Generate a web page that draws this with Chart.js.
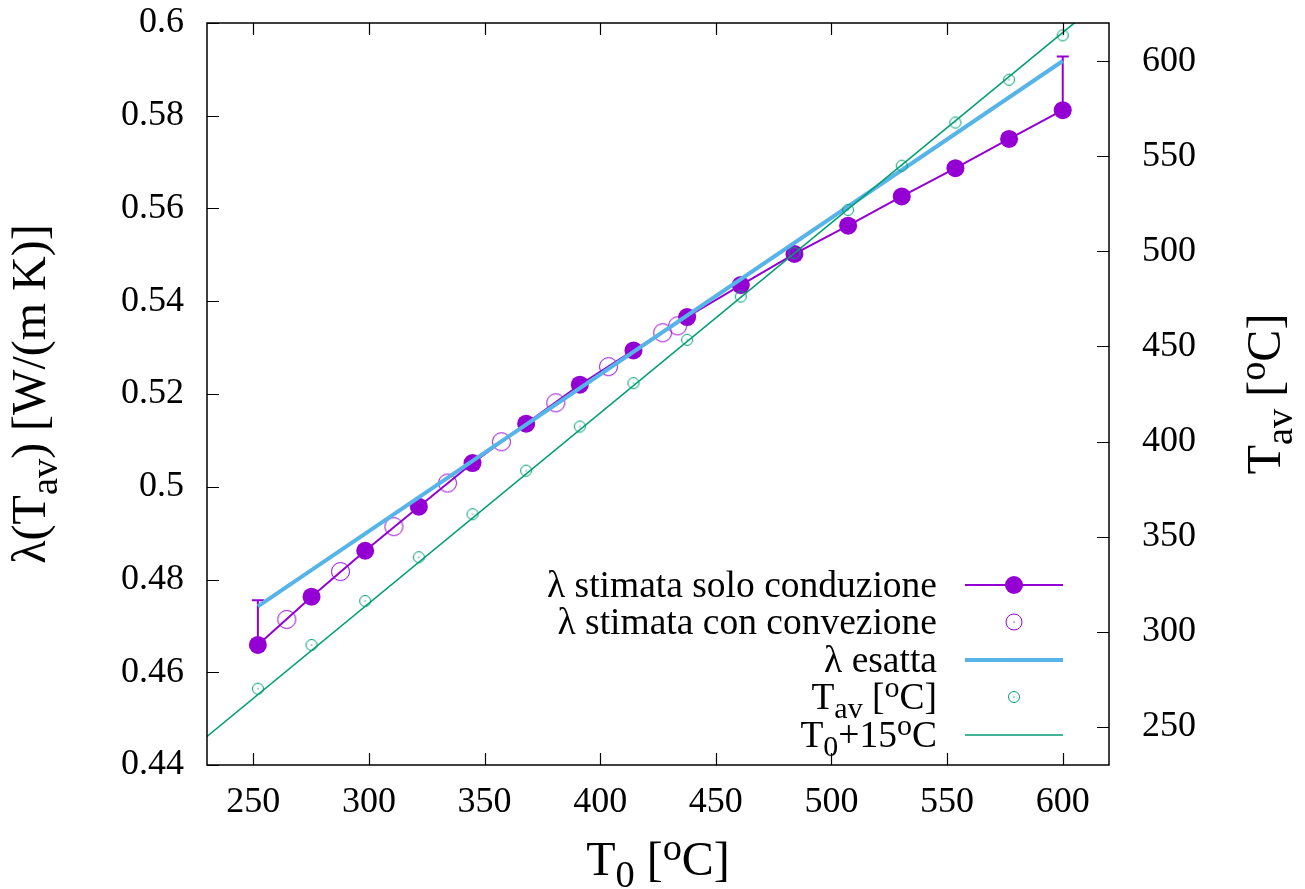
<!DOCTYPE html>
<html>
<head>
<meta charset="utf-8">
<script src="https://cdn.jsdelivr.net/npm/chart.js@4"></script>
<style>
  html, body { margin: 0; padding: 0; background: #ffffff; }
  #wrap { width: 1305px; height: 889px; }
</style>
</head>
<body>
<div id="wrap"><canvas id="c" width="1305" height="889"></canvas></div>
<script>
// ---------------- data ----------------
const T0 = [252, 275.2, 298.4, 321.6, 344.8, 368, 391.2, 414.4, 437.6, 460.8, 484, 507.2, 530.4, 553.6, 576.8, 600];
const lamCond = [0.4659, 0.4763, 0.4862, 0.4957, 0.5051, 0.5136, 0.5220, 0.5294, 0.5366, 0.5435, 0.5502, 0.5563, 0.5626, 0.5687, 0.5750, 0.5812];
const errX = [252, 600];
const errLow = [0.4659, 0.5812];
const errHigh = [0.4755, 0.5928];
const T0conv = [264.5, 287.7, 310.8, 334, 357.3, 380.8, 403.6, 427, 433.5];
const lamConv = [0.4714, 0.4817, 0.4914, 0.5008, 0.5097, 0.5181, 0.5259, 0.5332, 0.5347];
const T0exact = [252, 600];
const lamExact = [0.4742, 0.5918];
const Tav = [270.1, 293.1, 316.2, 339.2, 361.8, 384.7, 407.9, 430.7, 453.5, 476.2, 499.1, 521.8, 545.0, 567.7, 590.2, 613.5];
const T0line = [230, 620];
const T0plus15 = [245, 635];

const xTicks = [250, 300, 350, 400, 450, 500, 550, 600];
const xTickLabels = ['250', '300', '350', '400', '450', '500', '550', '600'];
const yTicks = [0.44, 0.46, 0.48, 0.5, 0.52, 0.54, 0.56, 0.58, 0.6];
const yTickLabels = ['0.44', '0.46', '0.48', '0.5', '0.52', '0.54', '0.56', '0.58', '0.6'];
const y2Ticks = [250, 300, 350, 400, 450, 500, 550, 600];
const y2TickLabels = ['250', '300', '350', '400', '450', '500', '550', '600'];

const legendLabels = [
  [{t: 'λ stimata solo conduzione'}],
  [{t: 'λ stimata con convezione'}],
  [{t: 'λ esatta'}],
  [{t: 'T'}, {t: 'av', sub: true}, {t: ' ['}, {t: 'o', sup: true}, {t: 'C]'}],
  [{t: 'T'}, {t: '0', sub: true}, {t: '+15'}, {t: 'o', sup: true}, {t: 'C'}]
];
const xTitle = [{t: 'T'}, {t: '0', sub: true}, {t: ' ['}, {t: 'o', sup: true}, {t: 'C]'}];
const yTitle = [{t: 'λ(T'}, {t: 'av', sub: true}, {t: ') [W/(m K)]'}];
const y2Title = [{t: 'T'}, {t: 'av', sub: true}, {t: ' ['}, {t: 'o', sup: true}, {t: 'C]'}];

// ---------------- style ----------------
const PURPLE = '#9400d3';
const CYAN = '#56b4e9';
const GREEN = '#009e73';
const FONT = '"Liberation Serif", "Times New Roman", serif';

function zip(xs, ys) { return xs.map((x, i) => ({x: x, y: ys[i]})); }

function circleIcon(color, r, lw, dot) {
  const s = Math.ceil(2 * r + lw + 2);
  const cv = document.createElement('canvas');
  cv.width = s; cv.height = s;
  const c = cv.getContext('2d');
  c.strokeStyle = color; c.lineWidth = lw;
  c.beginPath(); c.arc(s / 2, s / 2, r, 0, Math.PI * 2); c.stroke();
  if (dot) { c.fillStyle = color; c.fillRect(s / 2 - 0.6, s / 2 - 0.6, 1.2, 1.2); }
  return cv;
}
const greenIcon = circleIcon(GREEN, 5.5, 1, true);
const purpleOpenIcon = circleIcon(PURPLE, 9, 1, false);

function drawRich(ctx, parts, x, y, size, align) {
  const subSize = size * 0.8;
  let w = 0;
  const widths = parts.map(p => {
    ctx.font = ((p.sub || p.sup) ? subSize : size) + 'px ' + FONT;
    const ww = ctx.measureText(p.t).width;
    w += ww; return ww;
  });
  let cx = align === 'right' ? x - w : (align === 'center' ? x - w / 2 : x);
  ctx.textAlign = 'left';
  ctx.textBaseline = 'alphabetic';
  parts.forEach((p, i) => {
    ctx.font = ((p.sub || p.sup) ? subSize : size) + 'px ' + FONT;
    let dy = 0;
    if (p.sub) dy = size * 0.25;
    if (p.sup) dy = -size * 0.31;
    ctx.fillText(p.t, cx, y + dy);
    cx += widths[i];
  });
}

const decorPlugin = {
  id: 'decor',
  beforeDatasetsDraw(chart) {
    const ctx = chart.ctx, xs = chart.scales.x, ys = chart.scales.y;
    ctx.save();
    ctx.strokeStyle = PURPLE; ctx.lineWidth = 2;
    errX.forEach((xv, i) => {
      const px = xs.getPixelForValue(xv);
      const p1 = ys.getPixelForValue(errLow[i]);
      const p2 = ys.getPixelForValue(errHigh[i]);
      ctx.beginPath();
      ctx.moveTo(px, p1); ctx.lineTo(px, p2);
      ctx.moveTo(px - 6, p2); ctx.lineTo(px + 6, p2);
      ctx.stroke();
    });
    ctx.restore();
  },
  afterDraw(chart) {
    const ctx = chart.ctx, a = chart.chartArea;
    const xs = chart.scales.x, ys = chart.scales.y, y2 = chart.scales.y2;
    ctx.save();
    // frame
    ctx.strokeStyle = '#000'; ctx.lineWidth = 1.5;
    ctx.strokeRect(a.left, a.top, a.right - a.left, a.bottom - a.top);
    // inward ticks
    const TL = 12;
    ctx.lineWidth = 1.2;
    ctx.beginPath();
    xTicks.forEach(v => {
      const px = Math.round(xs.getPixelForValue(v)) + 0.5;
      ctx.moveTo(px, a.bottom); ctx.lineTo(px, a.bottom - TL);
      ctx.moveTo(px, a.top); ctx.lineTo(px, a.top + TL);
    });
    yTicks.forEach(v => {
      const py = Math.round(ys.getPixelForValue(v)) + 0.5;
      ctx.moveTo(a.left, py); ctx.lineTo(a.left + TL, py);
    });
    y2Ticks.forEach(v => {
      const py = Math.round(y2.getPixelForValue(v)) + 0.5;
      ctx.moveTo(a.right, py); ctx.lineTo(a.right - TL, py);
    });
    ctx.stroke();

    // axis titles
    ctx.fillStyle = '#000';
    drawRich(ctx, xTitle, (a.left + a.right) / 2, 875, 48, 'center');
    ctx.save();
    ctx.translate(45, (a.top + a.bottom) / 2);
    ctx.rotate(-Math.PI / 2);
    drawRich(ctx, yTitle, 0, 0, 48, 'center');
    ctx.restore();
    ctx.save();
    ctx.translate(1280, (a.top + a.bottom) / 2);
    ctx.rotate(-Math.PI / 2);
    drawRich(ctx, y2Title, 0, 0, 48, 'center');
    ctx.restore();

    // legend
    const rows = [585, 622, 660, 697, 735];
    const sx0 = 965, sx1 = 1063, sxm = 1014;
    legendLabels.forEach((parts, i) => {
      ctx.fillStyle = '#000';
      drawRich(ctx, parts, 937, rows[i] + 12, 37.5, 'right');
    });
    // row 1: purple line with filled circle
    ctx.strokeStyle = PURPLE; ctx.lineWidth = 2;
    ctx.beginPath(); ctx.moveTo(sx0, rows[0]); ctx.lineTo(sx1, rows[0]); ctx.stroke();
    ctx.fillStyle = PURPLE;
    ctx.beginPath(); ctx.arc(sxm, rows[0], 9, 0, Math.PI * 2); ctx.fill();
    // row 2: open purple circle with dot
    ctx.lineWidth = 1;
    ctx.beginPath(); ctx.arc(sxm, rows[1], 8, 0, Math.PI * 2); ctx.stroke();
    ctx.fillRect(sxm - 0.6, rows[1] - 0.6, 1.2, 1.2);
    // row 3: cyan line
    ctx.strokeStyle = CYAN; ctx.lineWidth = 4;
    ctx.beginPath(); ctx.moveTo(sx0, rows[2]); ctx.lineTo(sx1, rows[2]); ctx.stroke();
    // row 4: green open circle
    ctx.drawImage(greenIcon, sxm - greenIcon.width / 2, rows[3] - greenIcon.height / 2);
    // row 5: green line
    ctx.strokeStyle = GREEN; ctx.lineWidth = 1.6;
    ctx.beginPath(); ctx.moveTo(sx0, rows[4]); ctx.lineTo(sx1, rows[4]); ctx.stroke();
    ctx.restore();
  }
};

function setTicks(values) {
  return function (scale) { scale.ticks = values.map(v => ({value: v})); };
}

const tickFont = {family: FONT, size: 36};

new Chart(document.getElementById('c'), {
  type: 'scatter',
  data: {
    datasets: [
      {
        label: 'λ stimata solo conduzione',
        data: zip(T0, lamCond), yAxisID: 'y', showLine: true,
        borderColor: PURPLE, borderWidth: 2, backgroundColor: PURPLE,
        pointRadius: 9, pointBackgroundColor: PURPLE, pointBorderWidth: 0,
        order: 5
      },
      {
        label: 'λ stimata con convezione',
        data: zip(T0conv, lamConv), yAxisID: 'y', showLine: false,
        pointStyle: purpleOpenIcon, pointRadius: 9,
        borderColor: PURPLE, backgroundColor: 'rgba(0,0,0,0)',
        order: 4
      },
      {
        label: 'λ esatta',
        data: zip(T0exact, lamExact), yAxisID: 'y', showLine: true,
        borderColor: CYAN, borderWidth: 4, pointRadius: 0,
        order: 3
      },
      {
        label: 'Tav',
        data: zip(T0, Tav), yAxisID: 'y2', showLine: false,
        pointStyle: greenIcon, pointRadius: 6,
        borderColor: GREEN, backgroundColor: 'rgba(0,0,0,0)',
        order: 2
      },
      {
        label: 'T0+15',
        data: zip(T0line, T0plus15), yAxisID: 'y2', showLine: true,
        borderColor: GREEN, borderWidth: 1.6, pointRadius: 0,
        order: 1
      }
    ]
  },
  options: {
    responsive: false,
    animation: false,
    devicePixelRatio: 1,
    layout: {padding: {top: 23, left: 0, right: 0, bottom: 0}},
    plugins: {legend: {display: false}, tooltip: {enabled: false}},
    elements: {line: {tension: 0}},
    scales: {
      x: {
        type: 'linear', position: 'bottom', min: 230, max: 620,
        afterBuildTicks: setTicks(xTicks),
        afterFit: s => { s.height = 124; s.paddingLeft = 0; s.paddingRight = 0; },
        grid: {display: false, drawTicks: false},
        border: {display: false},
        ticks: {
          font: tickFont, color: '#000', padding: 16, maxRotation: 0, autoSkip: false,
          callback: (v, i) => xTickLabels[i]
        }
      },
      y: {
        type: 'linear', position: 'left', min: 0.44, max: 0.6,
        afterBuildTicks: setTicks(yTicks),
        afterFit: s => { s.width = 207; s.paddingTop = 0; s.paddingBottom = 0; },
        grid: {display: false, drawTicks: false},
        border: {display: false},
        ticks: {
          font: tickFont, color: '#000', padding: 23, autoSkip: false,
          callback: (v, i) => yTickLabels[i]
        }
      },
      y2: {
        type: 'linear', position: 'right', min: 230, max: 620,
        afterBuildTicks: setTicks(y2Ticks),
        afterFit: s => { s.width = 196; s.paddingTop = 0; s.paddingBottom = 0; },
        grid: {display: false, drawTicks: false},
        border: {display: false},
        ticks: {
          font: tickFont, color: '#000', padding: 33, autoSkip: false,
          callback: (v, i) => y2TickLabels[i]
        }
      }
    }
  },
  plugins: [decorPlugin]
});
</script>
</body>
</html>
